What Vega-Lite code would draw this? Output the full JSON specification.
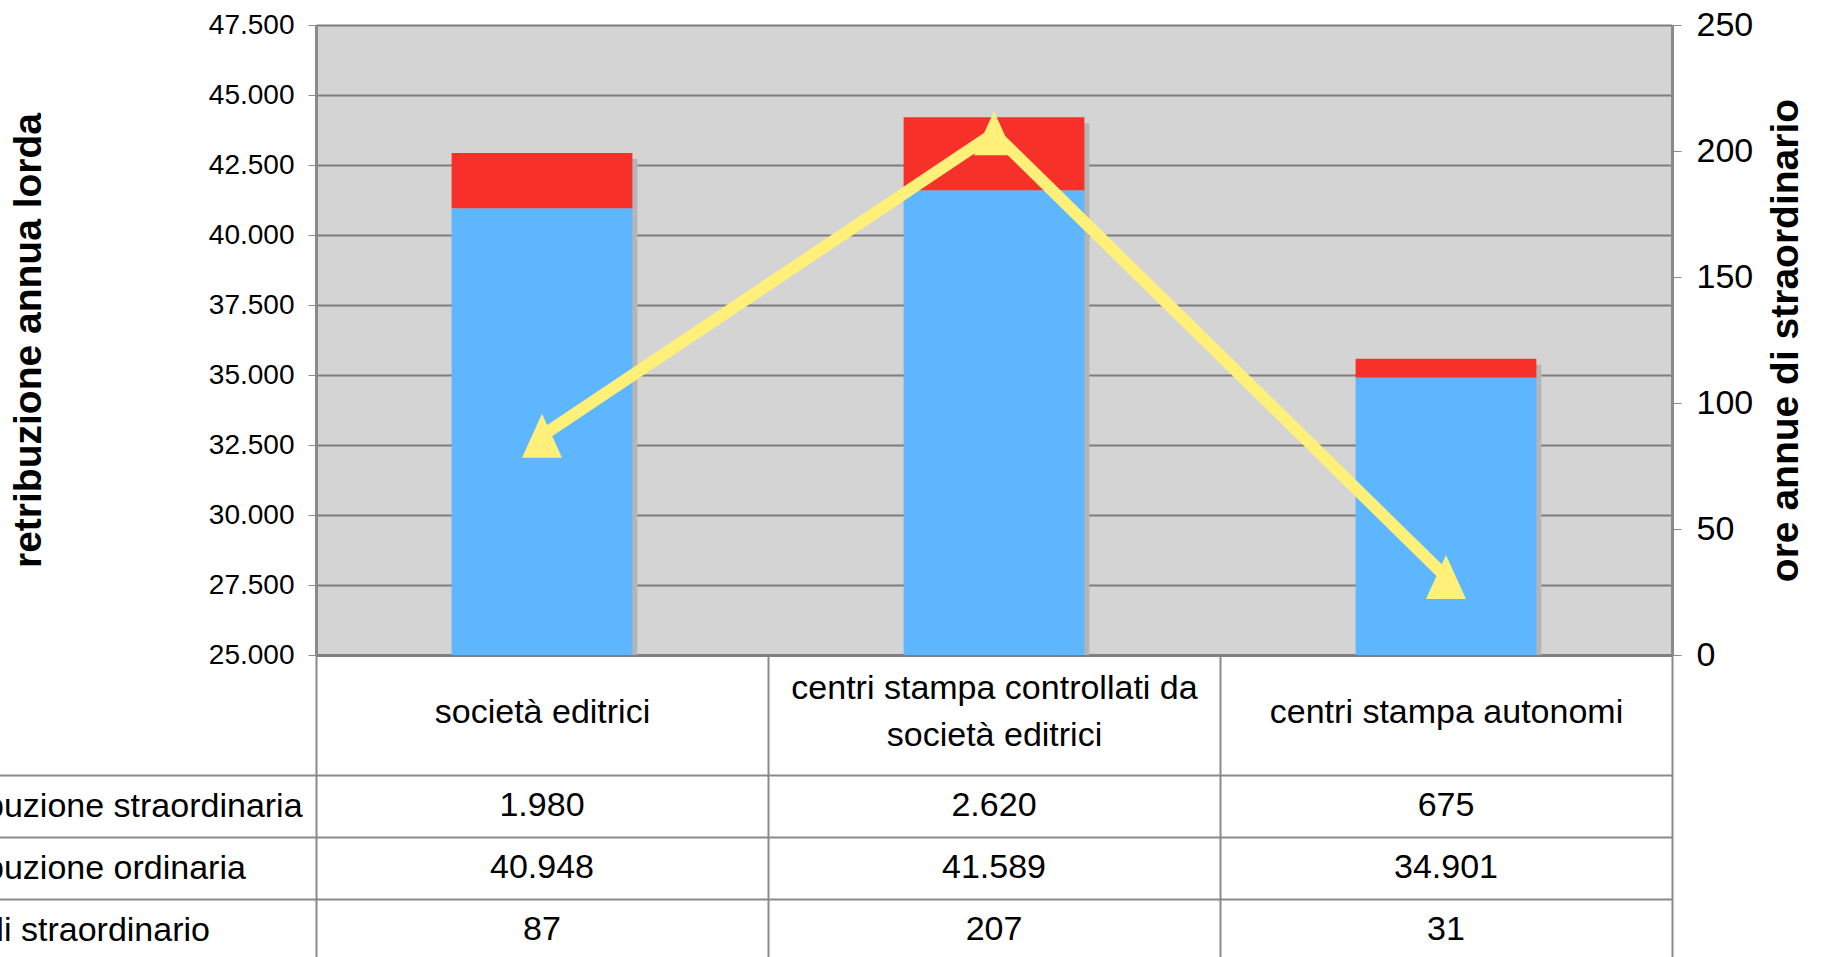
{
  "$schema": "https://vega.github.io/schema/vega-lite/v6.json",
  "width": 1356,
  "height": 630,
  "autosize": {"type": "none"},
  "padding": {"left": 316, "top": 25, "right": 153, "bottom": 302},
  "background": "white",
  "config": {
    "locale": {"number": {"decimal": ",", "thousands": ".", "grouping": [3], "currency": ["€", ""]}},
    "font": "Liberation Sans",
    "view": {"fill": "#d4d4d4", "stroke": null},
    "axis": {"labelColor": "#000000", "titleColor": "#000000", "domainColor": "#8a8a8a", "tickColor": "#8a8a8a", "gridColor": "#7d7d7d", "gridOpacity": 1}
  },
  "data": {
    "values": [
      {"categoria": "società editrici", "voce": "retribuzione straordinaria", "valore": 1980},
      {"categoria": "centri stampa controllati da società editrici", "voce": "retribuzione straordinaria", "valore": 2620},
      {"categoria": "centri stampa autonomi", "voce": "retribuzione straordinaria", "valore": 675},
      {"categoria": "società editrici", "voce": "retribuzione ordinaria", "valore": 40948},
      {"categoria": "centri stampa controllati da società editrici", "voce": "retribuzione ordinaria", "valore": 41589},
      {"categoria": "centri stampa autonomi", "voce": "retribuzione ordinaria", "valore": 34901},
      {"categoria": "società editrici", "voce": "ore di straordinario", "valore": 87},
      {"categoria": "centri stampa controllati da società editrici", "voce": "ore di straordinario", "valore": 207},
      {"categoria": "centri stampa autonomi", "voce": "ore di straordinario", "valore": 31}
    ]
  },
  "encoding": {
    "x": {
      "field": "categoria", "type": "nominal",
      "scale": {"domain": ["società editrici", "centri stampa controllati da società editrici", "centri stampa autonomi"], "paddingInner": 0, "paddingOuter": 0},
      "axis": {
        "title": null, "orient": "bottom", "tickBand": "extent", "tickSize": 310, "tickWidth": 2,
        "tickColor": "#8a8a8a", "domainColor": "#7f7f7f", "domainWidth": 3,
        "labelPadding": -253,
        "labelBaseline": {"condition": {"test": "datum.value == 'centri stampa controllati da società editrici'", "value": "line-bottom"}, "value": "middle"},
        "labelFont": "Liberation Sans",
        "labelFontSize": 34, "labelLimit": 0, "labelLineHeight": 47, "labelAngle": 0, "labelAlign": "center",
        "labelExpr": "datum.value == 'centri stampa controllati da società editrici' ? ['centri stampa controllati da', 'società editrici'] : datum.label"
      }
    }
  },
  "layer": [
    {
      "transform": [{"filter": "datum.voce != 'ore di straordinario'"}],
      "encoding": {
        "y": {
          "field": "valore", "type": "quantitative", "stack": "zero",
          "scale": {"domain": [25000, 47500], "zero": false, "nice": false},
          "axis": {
            "title": "retribuzione annua lorda", "orient": "left",
            "values": [25000, 27500, 30000, 32500, 35000, 37500, 40000, 42500, 45000, 47500],
            "format": ",d", "labelFontSize": 28, "tickSize": 8, "labelPadding": 14,
            "grid": true, "gridWidth": 2, "domainWidth": 3,
            "titleFontSize": 39, "titleFontWeight": "bold", "titlePadding": 160
          }
        },
        "order": {"field": "voce", "sort": "ascending"}
      },
      "layer": [
        {
          "mark": {"type": "bar", "clip": true, "width": {"band": 0.4}, "color": "#b5b5b5"},
          "encoding": {
            "xOffset": {"value": 5},
            "yOffset": {"value": 6}
          }
        },
        {
          "mark": {"type": "bar", "clip": true, "width": {"band": 0.4}},
          "encoding": {
            "color": {
              "field": "voce", "type": "nominal",
              "scale": {"domain": ["retribuzione ordinaria", "retribuzione straordinaria"], "range": ["#5eb6fe", "#f7312a"]},
              "legend": null
            }
          }
        }
      ]
    },
    {
      "transform": [{"filter": "datum.voce == 'ore di straordinario'"}],
      "mark": {
        "type": "line", "color": "#fff07a", "strokeWidth": 12,
        "point": {"shape": "M-1,1.1L1,1.1L0,-1.1Z", "size": 1600, "filled": true, "color": "#fff07a", "opacity": 1}
      },
      "encoding": {
        "y": {
          "field": "valore", "type": "quantitative",
          "scale": {"domain": [0, 250], "nice": false},
          "axis": {
            "orient": "right", "title": "ore annue di straordinario",
            "values": [0, 50, 100, 150, 200, 250],
            "labelFontSize": 34, "tickSize": 9, "labelPadding": 15, "grid": false, "domainWidth": 3,
            "titleFontSize": 39, "titleFontWeight": "bold", "titleAngle": 270, "titleBaseline": "top", "titlePadding": 14
          }
        }
      }
    },
    {
      "mark": {"type": "text", "font": "Liberation Sans", "fontSize": 34, "baseline": "middle", "align": "center", "color": "#000000"},
      "encoding": {
        "y": {
          "field": "voce", "type": "nominal",
          "scale": {"domain": ["retribuzione straordinaria", "retribuzione ordinaria", "ore di straordinario"], "range": [750, 936], "paddingInner": 0, "paddingOuter": 0},
          "axis": {
            "orient": "left", "title": null, "domain": false, "tickBand": "extent", "tickSize": 330,
            "tickWidth": 2, "tickColor": "#8a8a8a", "grid": true, "gridColor": "#8a8a8a", "gridWidth": 2,
            "labelAlign": "left", "labelBaseline": "middle", "labelPadding": 60,
            "labelFont": "Liberation Sans", "labelFontSize": 34, "labelLimit": 0
          }
        },
        "text": {"field": "valore", "type": "quantitative", "format": ",d"}
      }
    }
  ],
  "resolve": {"scale": {"y": "independent"}, "axis": {"y": "independent"}}
}
